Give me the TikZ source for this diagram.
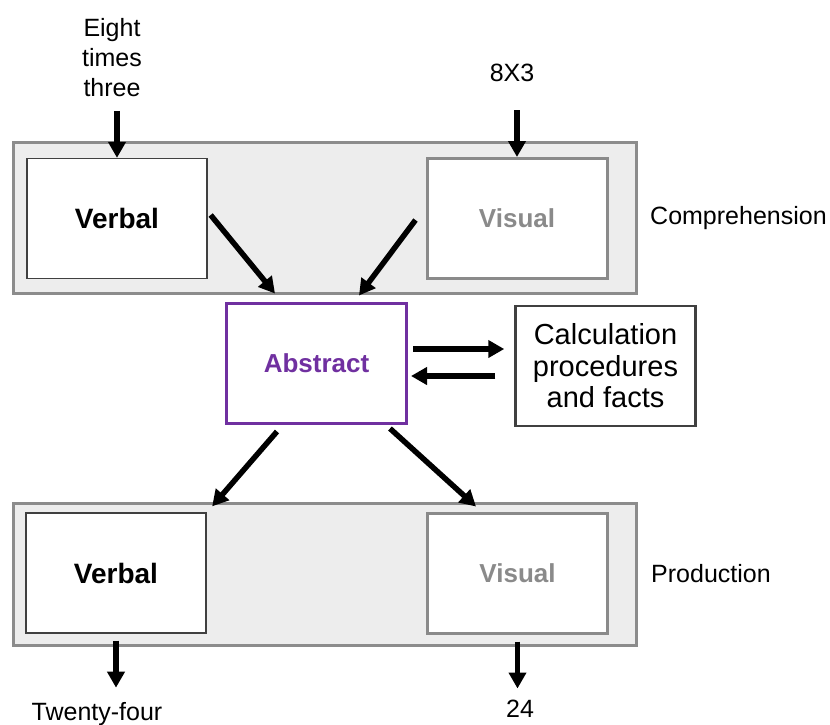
\documentclass[tikz,border=0pt]{standalone}
\usepackage{fontspec}
\setmainfont{Liberation Sans}
\usetikzlibrary{arrows.meta,calc}
\definecolor{panelfill}{HTML}{EDEDED}
\definecolor{panelline}{HTML}{8C8C8C}
\definecolor{visgray}{HTML}{8A8A8A}
\definecolor{absviolet}{HTML}{7030A0}
\definecolor{darkline}{HTML}{404040}
\tikzset{
  panel/.style={draw=panelline, fill=panelfill, line width=3pt, inner sep=0pt},
  cellbox/.style={fill=white, inner sep=0pt, minimum width=180pt, minimum height=120pt, align=center},
  verbbox/.style={cellbox, draw=darkline, line width=1.3pt, font=\bfseries\fontsize{28}{32}\selectfont},
  visbox/.style={cellbox, draw=visgray, line width=3pt, text=visgray, font=\bfseries\fontsize{26}{30}\selectfont},
  absbox/.style={cellbox, draw=absviolet, line width=3pt, text=absviolet, font=\bfseries\fontsize{26}{30}\selectfont},
  calcbox/.style={cellbox, draw=darkline, line width=2.5pt, font=\fontsize{29}{31.5}\selectfont},
  lbl/.style={inner sep=0pt, align=center, font=\fontsize{25}{30}\selectfont},
  arr/.style={line width=5.5pt, -{Triangle[width=17pt,length=16pt]}}
}
\begin{document}
\begin{tikzpicture}[x=1pt, y=-1pt]
\useasboundingbox (0,0) rectangle (830,724);

% grey panels for the two stages
\node[panel, minimum width=623pt, minimum height=151pt] (topgrp) at (324.5,217.5) {};
\node[panel, minimum width=623pt, minimum height=142pt] (botgrp) at (324.5,574) {};

% comprehension stage
\node[verbbox] (tverb) at (117,218.5) {Verbal};
\node[visbox]  (tvis)  at (517,218.5) {Visual};

% central representation and the fact store
\node[absbox]  (abs)   at (316.5,363) {Abstract};
\node[calcbox] (calc)  at (605.5,366) {Calculation\\procedures\\and facts};

% production stage
\node[verbbox] (bverb) at (116,573) {Verbal};
\node[visbox]  (bvis)  at (517.5,573) {Visual};

% inputs, outputs and stage names
\node[lbl, anchor=north] (eight) at (112,18) {Eight\\times\\three};
\node[lbl, anchor=base] (ex) at (512,81) {8X3};
\node[lbl, anchor=base west] (comp) at (650,224) {Comprehension};
\node[lbl, anchor=base west] (prod) at (651,582) {Production};
\node[lbl, anchor=base] (tw) at (97,720) {Twenty-four};
\node[lbl, anchor=base] (tf) at (520,717) {24};

% connectors
\draw[arr] ($(tverb.north)+(0,-47)$) -- (tverb.north);
\draw[arr] ($(tvis.north)+(0,-47)$) -- (tvis.north);
\draw[arr] ($(tverb.east)+(3,-3.5)$) -- ($(abs.north)+(-41.5,-8)$);
\draw[arr] ($(tvis.west)+(-10,1.5)$) -- ($(abs.north)+(42.5,-6)$);
\draw[arr] ($(abs.east)+(5,-14)$) -- ($(calc.west)+(-10,-17)$);
\draw[arr] ($(calc.west)+(-19,10)$) -- ($(abs.east)+(3,13)$);
\draw[arr] ($(abs.south)+(-39.5,7)$) -- ($(bverb.north east)+(5.5,-6)$);
\draw[arr] ($(abs.south)+(73.5,4)$) -- ($(bvis.north west)+(50,-5)$);
\draw[arr] ($(bverb.south)+(0,7)$) -- ($(bverb.south)+(0,54)$);
\draw[arr] ($(bvis.south)+(0,7)$) -- ($(bvis.south)+(0,54)$);
\end{tikzpicture}
\end{document}
